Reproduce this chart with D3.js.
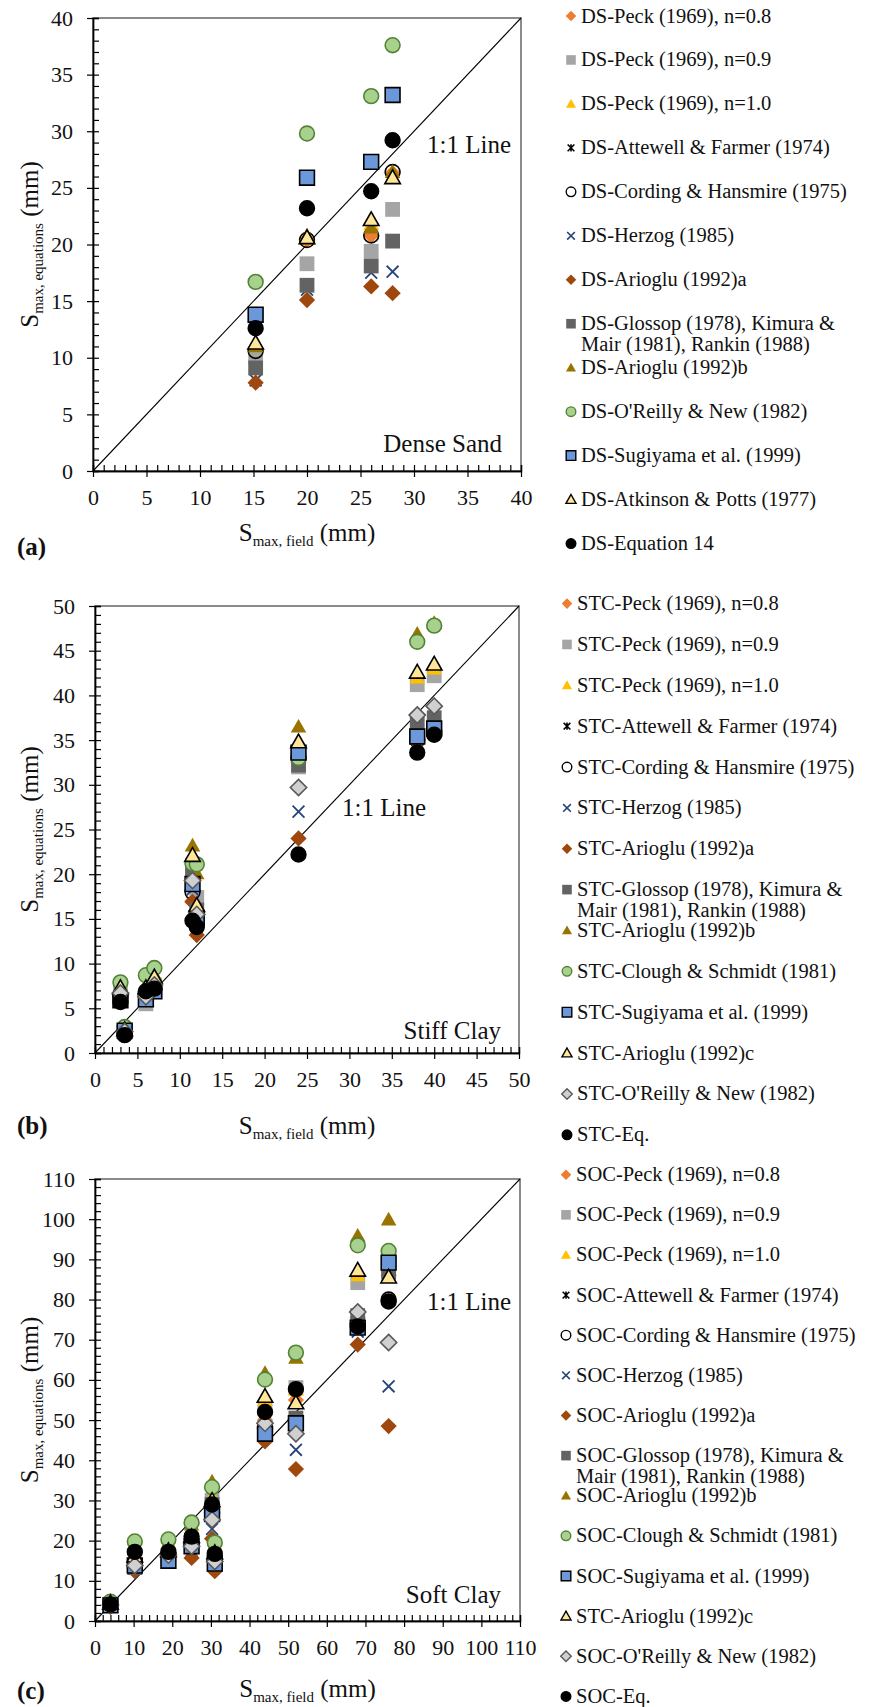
<!DOCTYPE html>
<html lang="en">
<head>
<meta charset="utf-8">
<title>Smax field vs equations</title>
<script src="https://cdnjs.cloudflare.com/ajax/libs/d3/7.8.5/d3.min.js"></script>
<style>
  body { margin: 0; background: #fff; }
  svg, svg text { font-family: "Liberation Serif", "Times New Roman", serif; }
</style>
</head>
<body>
<script>

// ---------- Dense sand (a) ----------
var dsField = [15.2, 20, 26, 28];
var dsPeck08 = [10.6, 20.4, 20.8, 26.3];
var dsPeck09 = [10.1, 18.3, 19.4, 23.1];
var dsPeck10 = [11.0, 20.5, 21.8, 26.0];
var dsAttewell = [9.1, 16.4, 18.1, 20.3];
var dsCording = [10.6, 20.4, 20.8, 26.4];
var dsHerzog = [8.0, 16.0, 17.5, 17.6];
var dsAriogluA = [7.8, 15.1, 16.3, 15.7];
var dsGlossop = [9.1, 16.4, 18.1, 20.3];
var dsAriogluB = [11.0, 20.8, 21.5, 26.4];
var dsOReilly = [16.7, 29.8, 33.1, 37.6];
var dsSugiyama = [13.8, 25.9, 27.3, 33.2];
var dsAtkinson = [11.3, 20.6, 22.2, 25.9];
var dsEq14 = [12.6, 23.2, 24.7, 29.2];
var dsLabels = ["DS-Peck (1969), n=0.8", "DS-Peck (1969), n=0.9", "DS-Peck (1969), n=1.0",
  "DS-Attewell & Farmer (1974)", "DS-Cording & Hansmire (1975)", "DS-Herzog (1985)",
  "DS-Arioglu (1992)a", "DS-Glossop (1978), Kimura &|Mair (1981), Rankin (1988)",
  "DS-Arioglu (1992)b", "DS-O'Reilly & New (1982)", "DS-Sugiyama et al. (1999)",
  "DS-Atkinson & Potts (1977)", "DS-Equation 14"];
var dsTicks = [0, 5, 10, 15, 20, 25, 30, 35, 40];

// ---------- Stiff clay (b) ----------
var stcField = [3, 3.5, 6, 7, 11.5, 12, 24, 38, 40];
var stcPeck08 = [6.5, 2.3, 6.6, 7.3, 17.0, 14.2, 32.5, 35.0, 36.0];
var stcPeck09 = [6.8, 2.4, 5.5, 7.6, 21.0, 17.4, 32.0, 41.2, 42.2];
var stcPeck10 = [7.0, 2.5, 7.0, 7.8, 20.5, 16.0, 33.0, 42.0, 43.0];
var stcAttewell = [6.0, 2.3, 6.3, 7.3, 19.9, 16.0, 32.2, 36.9, 37.5];
var stcCording = [6.3, 2.2, 6.5, 7.2, 18.0, 14.5, 33.0, 35.0, 36.0];
var stcHerzog = [6.0, 2.1, 6.2, 7.0, 18.3, 15.0, 27.0, 35.2, 36.2];
var stcAriogluA = [5.8, 2.0, 6.0, 7.0, 16.9, 13.2, 24.0, 34.7, 35.7];
var stcGlossop = [6.0, 2.3, 6.3, 7.3, 19.9, 16.0, 32.2, 36.9, 37.5];
var stcAriogluB = [7.5, 2.6, 7.6, 8.8, 23.2, 20.1, 36.5, 46.9, 48.1];
var stcClough = [7.9, 2.9, 8.7, 9.5, 21.2, 21.1, 33.0, 46.0, 47.8];
var stcSugiyama = [5.9, 2.5, 6.0, 6.9, 18.9, 15.1, 33.6, 35.4, 36.3];
var stcAriogluC = [7.3, 2.6, 7.3, 8.5, 22.1, 16.5, 34.8, 42.6, 43.5];
var stcOReilly = [6.7, 2.4, 6.3, 7.6, 19.3, 15.5, 29.7, 37.8, 38.8];
var stcEq = [5.7, 2.0, 6.9, 7.2, 14.8, 14.1, 22.2, 33.6, 35.6];
var stcLabels = ["STC-Peck (1969), n=0.8", "STC-Peck (1969), n=0.9", "STC-Peck (1969), n=1.0",
  "STC-Attewell & Farmer (1974)", "STC-Cording & Hansmire (1975)", "STC-Herzog (1985)",
  "STC-Arioglu (1992)a", "STC-Glossop (1978), Kimura &|Mair (1981), Rankin (1988)",
  "STC-Arioglu (1992)b", "STC-Clough & Schmidt (1981)", "STC-Sugiyama et al. (1999)",
  "STC-Arioglu (1992)c", "STC-O'Reilly & New (1982)", "STC-Eq."];
var stcTicks = [0, 5, 10, 15, 20, 25, 30, 35, 40, 45, 50];

// ---------- Soft clay (c) ----------
var socField = [4, 10.3, 19, 25, 30.3, 31, 44, 52, 68, 76];
var socPeck08 = [4.0, 13.0, 16.0, 19.0, 28.0, 15.0, 50.0, 55.0, 75.5, 86.0];
var socPeck09 = [4.2, 13.3, 16.2, 19.5, 30.0, 15.5, 53.0, 58.1, 84.2, 86.0];
var socPeck10 = [4.4, 14.0, 17.0, 20.0, 31.0, 16.0, 55.0, 57.5, 86.0, 88.0];
var socAttewell = [4.0, 13.3, 16.0, 19.0, 29.0, 15.0, 48.0, 50.5, 76.0, 86.9];
var socCording = [4.0, 13.5, 16.5, 19.0, 27.0, 15.0, 48.0, 50.0, 74.0, 80.0];
var socHerzog = [3.8, 13.0, 15.5, 17.5, 22.9, 14.0, 46.0, 42.6, 72.0, 58.4];
var socAriogluA = [3.5, 12.4, 15.0, 15.7, 20.5, 12.4, 44.7, 37.8, 68.8, 48.5];
var socGlossop = [4.0, 13.3, 16.0, 19.0, 29.0, 15.0, 48.0, 50.5, 76.0, 86.9];
var socAriogluB = [5.0, 19.0, 19.5, 24.0, 34.7, 19.0, 61.7, 65.5, 95.9, 99.9];
var socClough = [4.8, 19.8, 20.3, 24.5, 33.3, 19.5, 60.1, 66.8, 93.5, 92.1];
var socSugiyama = [3.9, 13.8, 15.0, 18.6, 26.6, 14.3, 46.6, 49.2, 73.0, 89.2];
var socAriogluC = [4.5, 16.2, 17.5, 21.0, 30.0, 17.0, 55.9, 54.3, 87.3, 85.6];
var socOReilly = [4.0, 13.8, 16.4, 18.6, 25.2, 14.8, 49.2, 46.6, 76.9, 69.3];
var socEq = [4.1, 17.2, 17.2, 21.0, 29.0, 16.7, 52.0, 57.7, 73.3, 79.5];
var socLabels = ["SOC-Peck (1969), n=0.8", "SOC-Peck (1969), n=0.9", "SOC-Peck (1969), n=1.0",
  "SOC-Attewell & Farmer (1974)", "SOC-Cording & Hansmire (1975)", "SOC-Herzog (1985)",
  "SOC-Arioglu (1992)a", "SOC-Glossop (1978), Kimura &|Mair (1981), Rankin (1988)",
  "SOC-Arioglu (1992)b", "SOC-Clough & Schmidt (1981)", "SOC-Sugiyama et al. (1999)",
  "STC-Arioglu (1992)c", "SOC-O'Reilly & New (1982)", "SOC-Eq."];
var socTicks = [0, 10, 20, 30, 40, 50, 60, 70, 80, 90, 100, 110];

// marker styles, by kind
var styles = {
  peck08:   {shape: "diamond",  fill: "#ED7D31", stroke: "none"},
  peck09:   {shape: "square",   fill: "#A5A5A5", stroke: "none"},
  peck10:   {shape: "triangle", fill: "#FFC000", stroke: "none"},
  attewell: {shape: "star",     fill: "none",    stroke: "#000"},
  cording:  {shape: "circle",   fill: "none",    stroke: "#000"},
  herzog:   {shape: "x",        fill: "none",    stroke: "#264478"},
  ariogluA: {shape: "diamond",  fill: "#9E480E", stroke: "none"},
  glossop:  {shape: "square",   fill: "#636363", stroke: "none"},
  ariogluB: {shape: "triangle", fill: "#997300", stroke: "none"},
  green:    {shape: "circle",   fill: "#A9D18E", stroke: "#548235"},
  sugiyama: {shape: "square",   fill: "#6A98DA", stroke: "#000"},
  yellow:   {shape: "triangle", fill: "#FFE699", stroke: "#000"},
  oreilly:  {shape: "diamond",  fill: "#D0D0D0", stroke: "#595959"},
  eq:       {shape: "circle",   fill: "#000",    stroke: "#000"}
};

function markerPath(shape, r) {
  switch (shape) {
    case "circle": return `M${-r},0A${r},${r} 0 1,0 ${r},0A${r},${r} 0 1,0 ${-r},0Z`;
    case "square": return `M${-r},${-r}H${r}V${r}H${-r}Z`;
    case "diamond": return `M0,${-r * 1.1}L${r * 1.1},0L0,${r * 1.1}L${-r * 1.1},0Z`;
    case "triangle": return `M0,${-r * 1.05}L${r * 1.05},${r * 0.8}L${-r * 1.05},${r * 0.8}Z`;
    case "x": return `M${-r * 0.8},${-r * 0.8}L${r * 0.8},${r * 0.8}M${-r * 0.8},${r * 0.8}L${r * 0.8},${-r * 0.8}`;
    case "star": return `M${-r * 0.7},${-r * 0.7}L${r * 0.7},${r * 0.7}M${-r * 0.7},${r * 0.7}L${r * 0.7},${-r * 0.7}M0,${-r * 0.75}V${r * 0.75}`;
  }
}

var W = 872, H = 1707;
var serif = "Liberation Serif, Times New Roman, serif";
var svg = d3.select("body").append("svg").attr("width", W).attr("height", H)
  .attr("font-family", serif);

function drawPanel(p) {
  var x = d3.scaleLinear().domain([0, p.max]).range([p.left, p.right]);
  var y = d3.scaleLinear().domain([0, p.max]).range([p.bottom, p.top]);
  var g = svg.append("g");

  // plot frame
  g.append("rect")
    .attr("x", p.left).attr("y", p.top)
    .attr("width", p.right - p.left).attr("height", p.bottom - p.top)
    .attr("fill", "none").attr("stroke", "#6f6f6f").attr("stroke-width", 1.6);

  var minor = d3.range(0, p.max + 0.001, p.minor);

  // minor ticks point inside, major ticks point outside
  var xMin = g.append("g").attr("transform", `translate(0,${p.bottom})`)
    .call(d3.axisBottom(x).tickValues(minor).tickSize(-6).tickFormat(""));
  var yMin = g.append("g").attr("transform", `translate(${p.left},0)`)
    .call(d3.axisLeft(y).tickValues(minor).tickSize(-6).tickFormat(""));
  var xAx = g.append("g").attr("transform", `translate(0,${p.bottom})`)
    .call(d3.axisBottom(x).tickValues(p.ticks).tickSize(6).tickPadding(12).tickSizeOuter(0));
  var yAx = g.append("g").attr("transform", `translate(${p.left},0)`)
    .call(d3.axisLeft(y).tickValues(p.ticks).tickSize(6).tickPadding(14).tickSizeOuter(0));

  [xMin, yMin, xAx, yAx].forEach(a => {
    a.attr("font-family", serif);
    a.select(".domain").attr("stroke", "#000").attr("stroke-width", 1.4);
    a.selectAll(".tick line").attr("stroke", "#000").attr("stroke-width", 1.2);
    a.selectAll("text").attr("font-family", serif).attr("font-size", 22).attr("fill", "#111");
  });

  // 1:1 line
  g.append("line")
    .attr("x1", x(0)).attr("y1", y(0)).attr("x2", x(p.max)).attr("y2", y(p.max))
    .attr("stroke", "#000").attr("stroke-width", 1.1);

  // series, later ones on top
  p.series.forEach(s => {
    var st = styles[s.kind];
    g.append("g").selectAll("path")
      .data(s.values.map((v, i) => [p.field[i], v]))
      .enter().append("path")
      .attr("transform", d => `translate(${x(d[0])},${y(d[1])})`)
      .attr("d", markerPath(st.shape, 7.4))
      .attr("fill", st.fill)
      .attr("stroke", st.stroke)
      .attr("stroke-width", st.shape === "x" || st.shape === "star" ? 1.8 : 1.6);
  });

  // annotations
  g.append("text").attr("x", p.lineLabel[0]).attr("y", p.lineLabel[1])
    .attr("font-size", 25).attr("fill", "#111").text("1:1 Line");
  g.append("text").attr("x", p.soilLabel[0]).attr("y", p.soilLabel[1])
    .attr("text-anchor", "end").attr("font-size", 25).attr("fill", "#111").text(p.soil);

  // axis titles
  var xt = g.append("text").attr("x", (p.left + p.right) / 2).attr("y", p.xTitleY)
    .attr("text-anchor", "middle").attr("font-size", 25).attr("fill", "#111");
  xt.append("tspan").text("S");
  xt.append("tspan").attr("font-size", 15).attr("dy", 5).text("max, field");
  xt.append("tspan").attr("dy", -5).text(" (mm)");

  var cy = (p.top + p.bottom) / 2;
  var yt = g.append("text").attr("transform", `translate(38,${cy}) rotate(-90)`)
    .attr("text-anchor", "middle").attr("font-size", 25).attr("fill", "#111");
  yt.append("tspan").text("S");
  yt.append("tspan").attr("font-size", 15).attr("dy", 5).text("max, equations");
  yt.append("tspan").attr("dy", -5).text(" (mm)");

  g.append("text").attr("x", 17).attr("y", p.tagY)
    .attr("font-size", 25).attr("font-weight", "bold").attr("fill", "#111").text(p.tag);

  // legend
  var lg = svg.append("g");
  p.series.forEach((s, i) => {
    var st = styles[s.kind];
    var ly = p.legTop + i * p.legStep;
    lg.append("path")
      .attr("transform", `translate(${p.legX},${ly})`)
      .attr("d", markerPath(st.shape, 4.8))
      .attr("fill", st.fill)
      .attr("stroke", st.stroke)
      .attr("stroke-width", st.shape === "x" || st.shape === "star" ? 1.6 : 1.4);
    var lines = s.label.split("|");
    var t = lg.append("text").attr("x", p.legX + 10).attr("y", ly + 6.5)
      .attr("font-size", 20.5).attr("fill", "#111");
    lines.forEach((l, k) => {
      t.append("tspan").attr("x", p.legX + 10).attr("dy", k ? 21 : 0).text(l);
    });
  });
}

var kinds = ["peck08", "peck09", "peck10", "attewell", "cording", "herzog", "ariogluA",
  "glossop", "ariogluB", "green", "sugiyama", "yellow"];

var dsVals = [dsPeck08, dsPeck09, dsPeck10, dsAttewell, dsCording, dsHerzog, dsAriogluA,
  dsGlossop, dsAriogluB, dsOReilly, dsSugiyama, dsAtkinson, dsEq14];
var stcVals = [stcPeck08, stcPeck09, stcPeck10, stcAttewell, stcCording, stcHerzog, stcAriogluA,
  stcGlossop, stcAriogluB, stcClough, stcSugiyama, stcAriogluC, stcOReilly, stcEq];
var socVals = [socPeck08, socPeck09, socPeck10, socAttewell, socCording, socHerzog, socAriogluA,
  socGlossop, socAriogluB, socClough, socSugiyama, socAriogluC, socOReilly, socEq];

drawPanel({
  max: 40, minor: 1, ticks: dsTicks, field: dsField,
  left: 93, right: 521, top: 18, bottom: 471,
  series: dsVals.map((v, i) => ({values: v, label: dsLabels[i], kind: i < 12 ? kinds[i] : "eq"})),
  lineLabel: [427, 153], soilLabel: [502, 452], soil: "Dense Sand",
  xTitleY: 541, tag: "(a)", tagY: 555,
  legX: 571, legTop: 16, legStep: 43.96
});

drawPanel({
  max: 50, minor: 1, ticks: stcTicks, field: stcField,
  left: 95, right: 519, top: 606, bottom: 1053,
  series: stcVals.map((v, i) => ({values: v, label: stcLabels[i], kind: i < 12 ? kinds[i] : (i === 12 ? "oreilly" : "eq")})),
  lineLabel: [342, 816], soilLabel: [501, 1039], soil: "Stiff Clay",
  xTitleY: 1134, tag: "(b)", tagY: 1134,
  legX: 567, legTop: 603.6, legStep: 40.86
});

drawPanel({
  max: 110, minor: 2, ticks: socTicks, field: socField,
  left: 95, right: 520, top: 1179, bottom: 1621,
  series: socVals.map((v, i) => ({values: v, label: socLabels[i], kind: i < 12 ? kinds[i] : (i === 12 ? "oreilly" : "eq")})),
  lineLabel: [427, 1310], soilLabel: [501, 1603], soil: "Soft Clay",
  xTitleY: 1697, tag: "(c)", tagY: 1699,
  legX: 566, legTop: 1174.7, legStep: 40.13
});

</script>
</body>
</html>
